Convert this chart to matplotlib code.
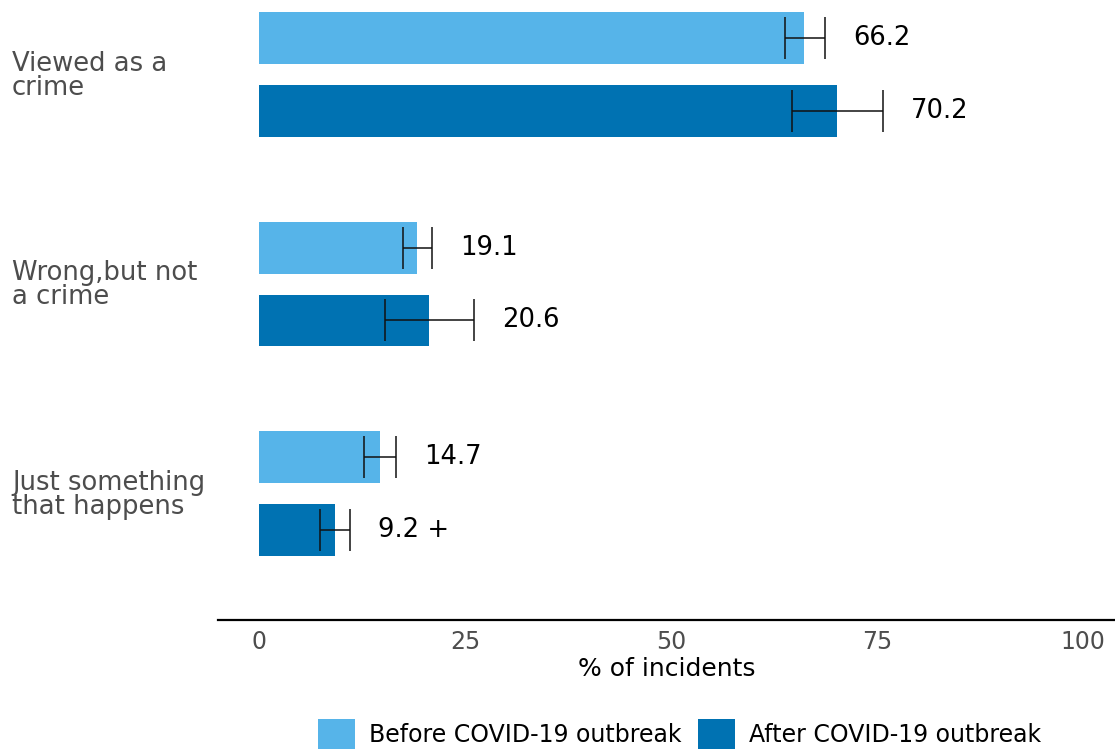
import matplotlib
matplotlib.use("Agg")
import matplotlib.pyplot as plt
import matplotlib.transforms as mtransforms
from matplotlib.patches import Patch

plt.rcParams['font.family'] = ['DejaVu Sans']

categories = ["Viewed as a\ncrime", "Wrong,but not\na crime", "Just something\nthat happens"]
series_names = ["Before COVID-19 outbreak", "After COVID-19 outbreak"]
before_values = [66.2, 19.1, 14.7]
after_values = [70.2, 20.6, 9.2]
before_low = [63.8, 17.4, 12.7]
before_high = [68.7, 21.0, 16.6]
after_low = [64.7, 15.3, 7.4]
after_high = [75.7, 26.1, 11.0]
before_labels = ["66.2", "19.1", "14.7"]
after_labels = ["70.2", "20.6", "9.2 +"]
x_ticks = [0, 25, 50, 75, 100]
x_label = "% of incidents"

colors = ["#56B4E9", "#0072B2"]
W, H = 1115, 749
fig = plt.figure(figsize=(W / 100, H / 100), dpi=100)
ax = fig.add_axes([218 / W, 1 - 620 / H, 1 - 218 / W, 620 / H])

offset = 0.174
bar_h = 0.248
series = [
    (before_values, before_low, before_high, before_labels, -offset),
    (after_values, after_low, after_high, after_labels, offset),
]
label_shift = mtransforms.offset_copy(ax.transData, fig=fig, x=28, y=0, units='dots')
for i, (vals, lo, hi, labs, off) in enumerate(series):
    ys = [k + off for k in range(len(categories))]
    ax.barh(ys, vals, height=bar_h, color=colors[i], linewidth=0)
    xerr = [[v - l for v, l in zip(vals, lo)], [h - v for v, h in zip(vals, hi)]]
    ax.errorbar(vals, ys, xerr=xerr, fmt='none', ecolor='#111111',
                elinewidth=1.1, capsize=15, capthick=1.1)
    for y, h, t in zip(ys, hi, labs):
        ax.text(h, y, t, transform=label_shift, ha='left', va='center',
                fontsize=18.6, color='black')

ax.set_xlim(-5, 103.9)
ax.set_ylim(2.604, -0.356)
ax.set_xticks(x_ticks)
ax.set_xticklabels([str(t) for t in x_ticks], fontsize=17, color='#4D4D4D')
ax.tick_params(axis='x', length=0, pad=7)
ax.set_yticks([])
ax.set_xlabel(x_label, fontsize=18, color='black', labelpad=2)
for side in ['top', 'right', 'left']:
    ax.spines[side].set_visible(False)
ax.spines['bottom'].set_linewidth(1.6)
ax.spines['bottom'].set_color('black')

blend = mtransforms.blended_transform_factory(fig.transFigure, ax.transData)
for k, cat in enumerate(categories):
    ax.text(12 / W, k + 0.005, cat, transform=blend, ha='left', va='center',
            fontsize=18.6, color='#4D4D4D', linespacing=0.9)

handles = [Patch(facecolor=c, edgecolor='none') for c in colors]
fig.legend(handles, series_names, loc='upper left', bbox_to_anchor=(318 / W, 1 - 719 / H),
           ncol=2, frameon=False, fontsize=17, handlelength=1.57, handleheight=1.57,
           handletextpad=0.6, columnspacing=0.68, borderpad=0, borderaxespad=0)

fig.savefig("out.png", dpi=100)
